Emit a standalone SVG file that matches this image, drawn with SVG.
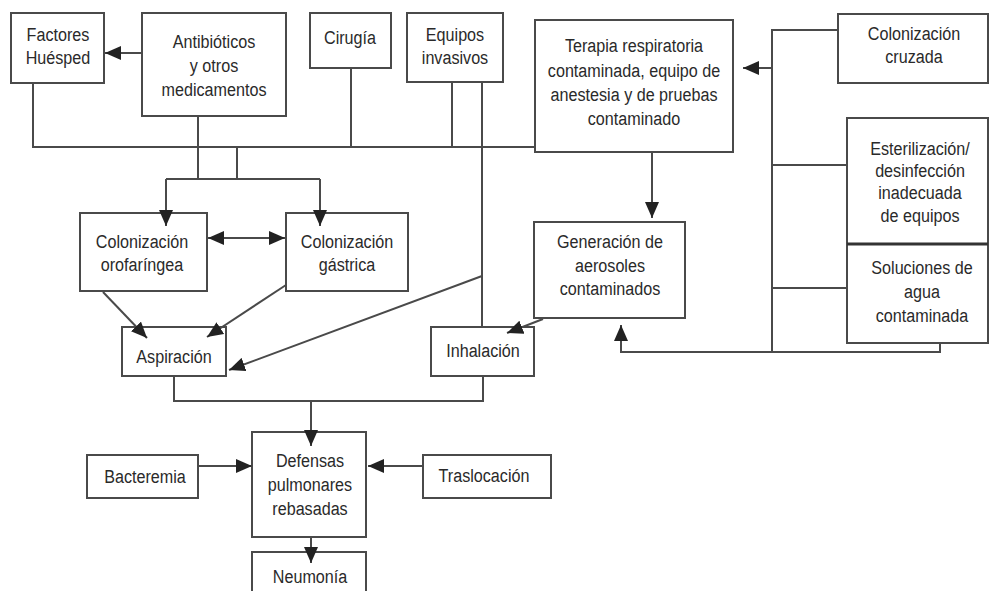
<svg xmlns="http://www.w3.org/2000/svg" width="991" height="591" viewBox="0 0 991 591">
<style>
.bx{fill:#fff;stroke:#4a4a4a;stroke-width:2}
.t{font-family:"Liberation Sans",Arial,sans-serif;font-size:19px;fill:#2a2a2a;text-anchor:middle}
.c{fill:none;stroke:#4a4a4a;stroke-width:2}
</style>
<defs>
<marker id="ah" viewBox="0 0 16 14" refX="16" refY="7" markerWidth="16" markerHeight="14" markerUnits="userSpaceOnUse" orient="auto-start-reverse">
<path d="M0,0 L16,7 L0,14 z" fill="#222"/>
</marker>
</defs>
<rect width="991" height="591" fill="#fff"/>
<g id="factores">
<rect class="bx" x="11" y="13" width="93" height="70"/>
<g transform="translate(58 0) scale(0.85 1)"><text class="t"><tspan x="0" y="41">Factores</tspan><tspan x="0" y="64">Huésped</tspan></text></g>
</g>
<g id="antibioticos">
<rect class="bx" x="142" y="13" width="144" height="103"/>
<g transform="translate(214 0) scale(0.85 1)"><text class="t"><tspan x="0" y="48">Antibióticos</tspan><tspan x="0" y="72">y otros</tspan><tspan x="0" y="96">medicamentos</tspan></text></g>
</g>
<g id="cirugia">
<rect class="bx" x="310" y="13" width="81" height="55"/>
<g transform="translate(350 0) scale(0.85 1)"><text class="t"><tspan x="0" y="44">Cirugía</tspan></text></g>
</g>
<g id="equipos">
<rect class="bx" x="407" y="13" width="96" height="69"/>
<g transform="translate(455 0) scale(0.85 1)"><text class="t"><tspan x="0" y="41">Equipos</tspan><tspan x="0" y="64">invasivos</tspan></text></g>
</g>
<g id="terapia">
<rect class="bx" x="535" y="20" width="198" height="132"/>
<g transform="translate(634 0) scale(0.85 1)"><text class="t"><tspan x="0" y="52">Terapia respiratoria</tspan><tspan x="0" y="77">contaminada, equipo de</tspan><tspan x="0" y="101">anestesia y de pruebas</tspan><tspan x="0" y="125">contaminado</tspan></text></g>
</g>
<g id="cruzada">
<rect class="bx" x="838" y="14" width="150" height="69"/>
<g transform="translate(914 0) scale(0.85 1)"><text class="t"><tspan x="0" y="40">Colonización</tspan><tspan x="0" y="63">cruzada</tspan></text></g>
</g>
<g id="esterilizacion">
<rect class="bx" x="847" y="118" width="141" height="126"/>
<g transform="translate(920 0) scale(0.85 1)"><text class="t"><tspan x="0" y="155">Esterilización/</tspan><tspan x="0" y="177">desinfección</tspan><tspan x="0" y="199">inadecuada</tspan><tspan x="0" y="222">de equipos</tspan></text></g>
</g>
<g id="soluciones">
<rect class="bx" x="847" y="244" width="141" height="99"/>
<path d="M847,244 H988" stroke="#333" stroke-width="3"/>
<g transform="translate(922 0) scale(0.85 1)"><text class="t"><tspan x="0" y="274">Soluciones de</tspan><tspan x="0" y="298">agua</tspan><tspan x="0" y="322">contaminada</tspan></text></g>
</g>
<g id="orofaringea">
<rect class="bx" x="80" y="213" width="127" height="78"/>
<g transform="translate(142 0) scale(0.85 1)"><text class="t"><tspan x="0" y="248">Colonización</tspan><tspan x="0" y="271">orofaríngea</tspan></text></g>
</g>
<g id="gastrica">
<rect class="bx" x="286" y="213" width="122" height="78"/>
<g transform="translate(347 0) scale(0.85 1)"><text class="t"><tspan x="0" y="248">Colonización</tspan><tspan x="0" y="271">gástrica</tspan></text></g>
</g>
<g id="aspiracion">
<rect class="bx" x="122" y="327" width="104" height="49"/>
<g transform="translate(174 0) scale(0.85 1)"><text class="t"><tspan x="0" y="363">Aspiración</tspan></text></g>
</g>
<g id="generacion">
<rect class="bx" x="534" y="222" width="151" height="96"/>
<g transform="translate(610 0) scale(0.85 1)"><text class="t"><tspan x="0" y="248">Generación de</tspan><tspan x="0" y="272">aerosoles</tspan><tspan x="0" y="295">contaminados</tspan></text></g>
</g>
<g id="inhalacion">
<rect class="bx" x="431" y="327" width="103" height="49"/>
<g transform="translate(483 0) scale(0.85 1)"><text class="t"><tspan x="0" y="357">Inhalación</tspan></text></g>
</g>
<g id="defensas">
<rect class="bx" x="252" y="432" width="114" height="105"/>
<g transform="translate(310 0) scale(0.85 1)"><text class="t"><tspan x="0" y="467">Defensas</tspan><tspan x="0" y="491">pulmonares</tspan><tspan x="0" y="515">rebasadas</tspan></text></g>
</g>
<g id="bacteremia">
<rect class="bx" x="87" y="455" width="111" height="43"/>
<g transform="translate(145 0) scale(0.85 1)"><text class="t"><tspan x="0" y="483">Bacteremia</tspan></text></g>
</g>
<g id="traslocacion">
<rect class="bx" x="423" y="455" width="128" height="43"/>
<g transform="translate(484 0) scale(0.85 1)"><text class="t"><tspan x="0" y="482">Traslocación</tspan></text></g>
</g>
<g id="neumonia">
<rect class="bx" x="252" y="552" width="114" height="50"/>
<g transform="translate(310 0) scale(0.85 1)"><text class="t"><tspan x="0" y="583">Neumonía</tspan></text></g>
</g>
<g id="connectors">
<path class="c" d="M142,53 L105,53" marker-end="url(#ah)"/>
<path class="c" d="M33,84 V147 H534"/>
<path class="c" d="M198,117 V179 M237,147 V179 M166,179 H320"/>
<path class="c" d="M166,179 V226" marker-end="url(#ah)"/>
<path class="c" d="M320,179 V226" marker-end="url(#ah)"/>
<path class="c" d="M351,69 V147 M452,83 V147 M482,83 V326"/>
<path class="c" d="M208,238 H285" marker-start="url(#ah)" marker-end="url(#ah)"/>
<path class="c" d="M103,292 L147,338" marker-end="url(#ah)"/>
<path class="c" d="M286,285 L207,337" marker-end="url(#ah)"/>
<path class="c" d="M482,276 L229,370" marker-end="url(#ah)"/>
<path class="c" d="M652,153 V218" marker-end="url(#ah)"/>
<path class="c" d="M543,319 L507,333" marker-end="url(#ah)"/>
<path class="c" d="M837,30 H772 V352"/>
<path class="c" d="M772,68 L743,68" marker-end="url(#ah)"/>
<path class="c" d="M772,165 H846 M772,288 H846"/>
<path class="c" d="M940,344 V352 H621 V325" marker-end="url(#ah)"/>
<path class="c" d="M174,377 V401 H483 V377"/>
<path class="c" d="M311,401 V446" marker-end="url(#ah)"/>
<path class="c" d="M198,466 H252" marker-end="url(#ah)"/>
<path class="c" d="M423,466 H368" marker-end="url(#ah)"/>
<path class="c" d="M311,538 V563" marker-end="url(#ah)"/>
</g>
</svg>
